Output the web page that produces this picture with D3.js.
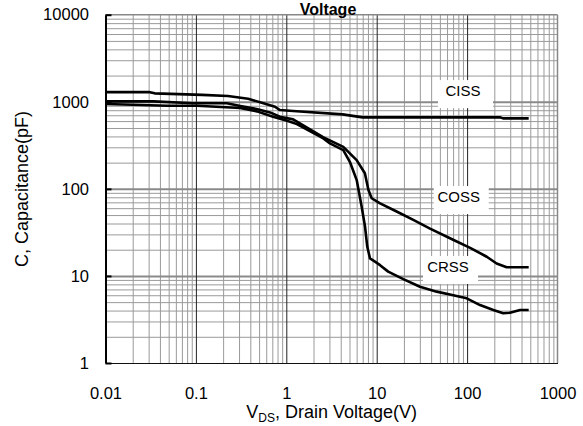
<!DOCTYPE html>
<html>
<head>
<meta charset="utf-8">
<script src="https://cdn.jsdelivr.net/npm/d3@7"></script>
<style>
  body { margin: 0; background: #fff; }
  svg { display: block; }
  text { font-family: "Liberation Sans", Arial, Helvetica, sans-serif; fill: #000; }
</style>
</head>
<body>
<svg id="chart" width="583" height="426"></svg>
<script>
// Capacitance vs drain-source voltage, [V_DS (V), C (pF)]
const cissData = [
  [0.01, 1290], [0.031, 1290], [0.035, 1250], [0.117, 1200], [0.226, 1163],
  [0.378, 1082], [0.535, 975], [0.75, 877], [0.85, 803], [1.19, 782],
  [4.2, 717], [7.0, 662], [231, 665], [250, 645], [480, 645]
];
const cossData = [
  [0.01, 1010], [0.034, 1010], [0.093, 960], [0.22, 960], [0.31, 895],
  [0.47, 825], [0.66, 755], [0.85, 673], [1.19, 628], [2.55, 393],
  [4.27, 304], [6.0, 214], [7.4, 151], [8.1, 97], [8.8, 78], [10.9, 68],
  [16.6, 55], [25.4, 44], [38.9, 35], [70, 26], [108, 21], [165, 16.6],
  [212, 13.9], [274, 12.6], [480, 12.6]
];
const crssData = [
  [0.01, 941], [0.02, 925], [0.048, 900], [0.103, 900], [0.308, 847],
  [0.474, 776], [0.713, 673], [1.02, 605], [1.31, 554], [2.57, 380],
  [3.04, 333], [4.27, 279], [5.06, 203], [6.01, 126], [6.82, 62.3],
  [7.43, 36.7], [7.87, 21.6], [8.43, 15.9], [9.57, 14.6], [10.9, 13.3],
  [13.4, 11.2], [19.7, 9.2], [30.1, 7.5], [46.1, 6.6], [70.3, 6.0],
  [99, 5.53], [139, 4.63], [195, 4.06], [251, 3.72], [298, 3.78],
  [385, 4.06], [480, 4.06]
];

const seriesNames = ["CISS", "COSS", "CRSS"];
// label anchor for each series, in data units [V, pF]
const seriesLabelAt = [[90, 1162], [80.8, 70.5], [61.5, 11.1]];

const xTicks = [0.01, 0.1, 1, 10, 100, 1000];
const xTickLabels = ["0.01", "0.1", "1", "10", "100", "1000"];
const yTicks = [1, 10, 100, 1000, 10000];
const yTickLabels = ["1", "10", "100", "1000", "10000"];

const plotLeft = 105.5, plotRight = 557.5, plotTop = 14.7, plotBottom = 363;
const plotW = plotRight - plotLeft, plotH = plotBottom - plotTop;

const x = d3.scaleLog().domain([0.01, 1000]).range([plotLeft, plotRight]);
const y = d3.scaleLog().domain([1, 10000]).range([plotBottom, plotTop]);

const svg = d3.select("#chart");

// minor values 2..9 within each decade
function minors(lo, hi) {
  const out = [];
  for (let d = lo; d < hi * 0.999; d *= 10)
    for (let k = 2; k <= 9; k++) out.push(d * k);
  return out;
}
const xMinor = minors(0.01, 1000);
const yMinor = minors(1, 10000);

const grid = svg.append("g");

// vertical minor grid
grid.append("g")
  .attr("transform", `translate(0,${plotBottom})`)
  .call(d3.axisBottom(x).tickValues(xMinor).tickSize(-plotH).tickFormat(""))
  .call(g => g.select(".domain").remove())
  .call(g => g.selectAll("line").attr("stroke", "#9a9a9a").attr("stroke-width", 1));

// horizontal minor grid
grid.append("g")
  .attr("transform", `translate(${plotLeft},0)`)
  .call(d3.axisLeft(y).tickValues(yMinor).tickSize(-plotW).tickFormat(""))
  .call(g => g.select(".domain").remove())
  .call(g => g.selectAll("line").attr("stroke", "#9a9a9a").attr("stroke-width", 1));

// horizontal major grid
grid.append("g")
  .attr("transform", `translate(${plotLeft},0)`)
  .call(d3.axisLeft(y).tickValues([10, 100, 1000]).tickSize(-plotW).tickFormat(""))
  .call(g => g.select(".domain").remove())
  .call(g => g.selectAll("line").attr("stroke", "#8a8a8a").attr("stroke-width", 2));

// vertical major grid
grid.append("g")
  .attr("transform", `translate(0,${plotBottom})`)
  .call(d3.axisBottom(x).tickValues([0.1, 1, 10, 100]).tickSize(-plotH).tickFormat(""))
  .call(g => g.select(".domain").remove())
  .call(g => g.selectAll("line").attr("stroke", "#222").attr("stroke-width", 1));

// frame
grid.append("line").attr("x1", plotLeft).attr("x2", plotRight).attr("y1", plotTop).attr("y2", plotTop)
  .attr("stroke", "#888").attr("stroke-width", 1.5);
grid.append("line").attr("x1", plotRight).attr("x2", plotRight).attr("y1", plotTop).attr("y2", plotBottom)
  .attr("stroke", "#888").attr("stroke-width", 1.5);

// series label backgrounds
const labels = svg.append("g");
seriesNames.forEach((name, i) => {
  const [lv, lc] = seriesLabelAt[i];
  const cx = x(lv), by = y(lc);
  labels.append("rect")
    .attr("x", cx - 25).attr("y", by - 16)
    .attr("width", 55).attr("height", 28)
    .attr("fill", "#fff");
});

// curves
const line = d3.line().x(d => x(d[0])).y(d => y(d[1]));
[cissData, cossData, crssData].forEach(data => {
  svg.append("path")
    .datum(data)
    .attr("d", line)
    .attr("fill", "none")
    .attr("stroke", "#000")
    .attr("stroke-width", 2.6)
    .attr("stroke-linejoin", "round")
    .attr("stroke-linecap", "butt");
});

seriesNames.forEach((name, i) => {
  const [lv, lc] = seriesLabelAt[i];
  svg.append("text")
    .attr("x", x(lv)).attr("y", y(lc))
    .attr("text-anchor", "middle")
    .attr("font-size", 15)
    .text(name);
});

// axes
const xAxis = svg.append("g")
  .attr("transform", `translate(0,${plotBottom})`)
  .call(d3.axisBottom(x).tickValues(xTicks).tickFormat((d, i) => xTickLabels[i]).tickSize(0).tickPadding(24));
xAxis.select(".domain").attr("stroke", "#111").attr("stroke-width", 1.2);
xAxis.selectAll("text").attr("font-size", 16.5).attr("font-family", null);

const yAxis = svg.append("g")
  .attr("transform", `translate(${plotLeft},0)`)
  .call(d3.axisLeft(y).tickValues(yTicks).tickFormat((d, i) => yTickLabels[i]).tickSizeInner(-6).tickSizeOuter(0).tickPadding(16.5));
yAxis.select(".domain").attr("stroke", "#000").attr("stroke-width", 2);
yAxis.selectAll("line").attr("stroke", "#000").attr("stroke-width", 2);
yAxis.selectAll("text").attr("font-size", 16.5).attr("font-family", null).attr("x", -16.5);

// axis titles
const xt = svg.append("text")
  .attr("x", 331.7).attr("y", 418)
  .attr("text-anchor", "middle")
  .attr("font-size", 18);
xt.append("tspan").text("V");
xt.append("tspan").attr("font-size", 12).attr("dy", 4).text("DS");
xt.append("tspan").attr("dy", -4).text(", Drain Voltage(V)");

svg.append("text")
  .attr("transform", "translate(28.3,189) rotate(-90)")
  .attr("text-anchor", "middle")
  .attr("font-size", 18)
  .text("C, Capacitance(pF)");

// chart title (second line)
svg.append("text")
  .attr("x", 328).attr("y", 14.6)
  .attr("text-anchor", "middle")
  .attr("font-size", 16)
  .attr("font-weight", "bold")
  .text("Voltage");
</script>
</body>
</html>
